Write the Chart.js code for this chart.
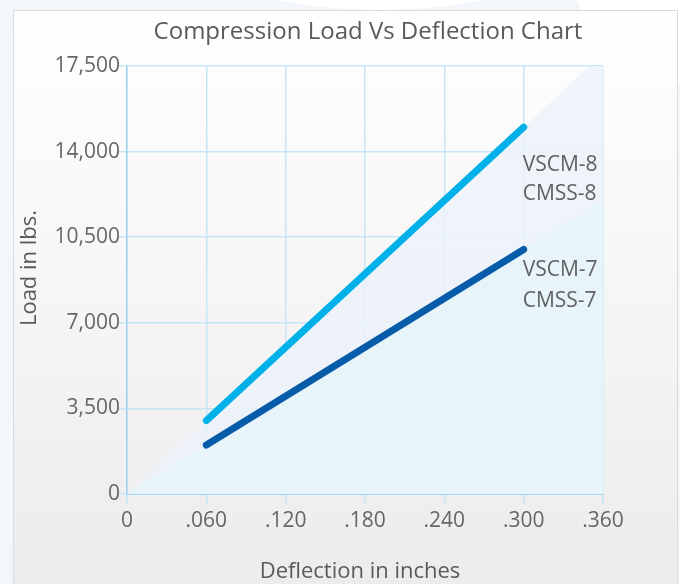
<!DOCTYPE html>
<html>
<head>
<meta charset="utf-8">
<script src="https://cdn.jsdelivr.net/npm/chart.js@4.4.0/dist/chart.umd.min.js"></script>
<style>
  html, body { margin: 0; padding: 0; }
  body { width: 680px; height: 584px; background: #f3f7fb; position: relative; overflow: hidden; }
  .blob { position: absolute; background: #fff; border-radius: 50%; }
  #card {
    position: absolute; left: 13px; top: 10px; width: 663px; height: 600px;
    border: 1.5px solid #d9dde1;
    background: linear-gradient(#ffffff 0%, #f6f6f6 45%, #ebebeb 100%);
  }
  #wrap { position: absolute; left: 0; top: 0; width: 680px; height: 584px; }
</style>
</head>
<body>
<div class="blob" style="left:80px; top:-300px; width:600px; height:310px;"></div>
<div class="blob" style="left:565px; top:-200px; width:400px; height:300px;"></div>
<div id="card"></div>
<div id="wrap"><canvas id="myChart" width="680" height="584"></canvas></div>
<script>
// values
var deflection = [0.06, 0.3];
var loadCm8 = [3000, 15000];
var loadCm7 = [2000, 10000];

// shaded wedges under each line, extended back to the origin
var wedgeX = [0, 0.36];
var wedgeCm8 = [0, 18000];
var wedgeCm7 = [0, 12000];

var seriesNames = [['VSCM-8', 'CMSS-8'], ['VSCM-7', 'CMSS-7']];
var nameLoads = [[13450, 12250], [9150, 7900]];

var xTicks = [0, 0.06, 0.12, 0.18, 0.24, 0.30, 0.36];
var yTicks = [0, 3500, 7000, 10500, 14000, 17500];

var FONT = "'Open Sans', 'DejaVu Sans', sans-serif";

function pts(xs, ys) {
    var out = [];
    for (var i = 0; i < xs.length; i++) out.push({ x: xs[i], y: ys[i] });
    return out;
}

var textPlugin = {
    id: 'texts',
    afterDatasetsDraw: function (chart) {
        var ctx = chart.ctx, xs = chart.scales.x, ys = chart.scales.y, a = chart.chartArea;
        ctx.save();
        ctx.fillStyle = '#616161';
        ctx.font = '21px ' + FONT;
        ctx.textAlign = 'left';
        ctx.textBaseline = 'middle';
        var lx = xs.getPixelForValue(deflection[deflection.length - 1]);
        for (var s = 0; s < seriesNames.length; s++) {
            for (var k = 0; k < seriesNames[s].length; k++) {
                ctx.fillText(seriesNames[s][k], lx - 1, ys.getPixelForValue(nameLoads[s][k]));
            }
        }
        // title
        ctx.fillStyle = '#5a5a5a';
        ctx.font = '24px ' + FONT;
        ctx.textAlign = 'center';
        ctx.fillText('Compression Load Vs Deflection Chart', (a.left + a.right) / 2 + 3, 32);
        // axis titles
        ctx.font = '22px ' + FONT;
        ctx.fillText('Deflection in inches', (a.left + a.right) / 2 - 5, 572);
        ctx.translate(30, 268);
        ctx.rotate(-Math.PI / 2);
        ctx.fillText('Load in lbs.', 0, 0);
        ctx.restore();
    }
};

var ctx = document.getElementById('myChart');

var chartGraph = new Chart(ctx, {
    type: 'line',
    data: {
        datasets: [{
            data: pts(wedgeX, wedgeCm8),
            borderWidth: 0,
            pointRadius: 0,
            fill: 'origin',
            backgroundColor: 'rgba(236,243,251,0.8)',
            order: 4
        }, {
            data: pts(wedgeX, wedgeCm7),
            borderWidth: 0,
            pointRadius: 0,
            fill: 'origin',
            backgroundColor: '#e7f4fa',
            order: 3
        }, {
            label: 'VSCM-8 / CMSS-8',
            data: pts(deflection, loadCm8),
            borderWidth: 7,
            borderColor: '#00b0e8',
            borderCapStyle: 'round',
            pointRadius: 0,
            fill: false,
            order: 1
        }, {
            label: 'VSCM-7 / CMSS-7',
            data: pts(deflection, loadCm7),
            borderWidth: 7,
            borderColor: '#075ca9',
            borderCapStyle: 'round',
            pointRadius: 0,
            fill: false,
            order: 2
        }]
    },
    options: {
        responsive: false,
        animation: false,
        layout: { padding: { top: 66, right: 77, left: 0, bottom: 0 } },
        plugins: {
            legend: { display: false },
            tooltip: { enabled: false },
            title: { display: false }
        },
        scales: {
            x: {
                type: 'linear',
                min: 0,
                max: 0.36,
                afterBuildTicks: function (axis) {
                    axis.ticks = xTicks.map(function (v) { return { value: v }; });
                },
                afterFit: function (axis) { axis.height = 90; },
                ticks: {
                    color: '#666',
                    font: { family: FONT, size: 21 },
                    padding: 4,
                    maxRotation: 0,
                    callback: function (v) {
                        if (v === 0) return '0';
                        return '.' + String(Math.round(v * 1000)).padStart(3, '0');
                    }
                },
                grid: { color: '#c6e5f6', lineWidth: 1.5, tickLength: 10 },
                border: { color: '#a6d7f0', width: 2 }
            },
            y: {
                min: 0,
                max: 17500,
                afterBuildTicks: function (axis) {
                    axis.ticks = yTicks.map(function (v) { return { value: v }; });
                },
                afterFit: function (axis) { axis.width = 127; },
                ticks: {
                    color: '#666',
                    font: { family: FONT, size: 21 },
                    padding: -3,
                    callback: function (v) { return v.toLocaleString('en-US'); }
                },
                grid: { color: '#c6e5f6', lineWidth: 1.5, tickLength: 10 },
                border: { color: '#9fd3ef', width: 1.5 }
            }
        }
    },
    plugins: [textPlugin]
});
</script>
</body>
</html>
